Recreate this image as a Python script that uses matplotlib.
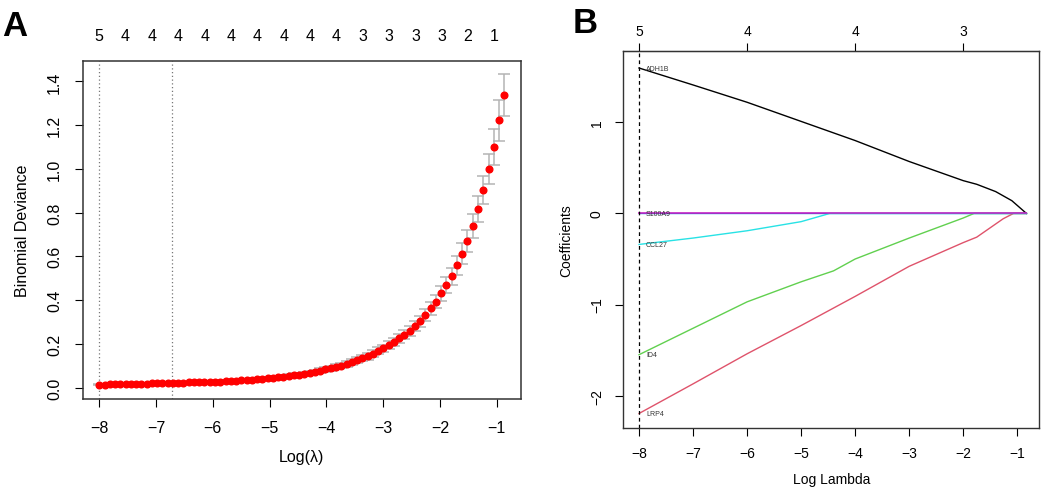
import numpy as np
import matplotlib
matplotlib.use("Agg")
import matplotlib.pyplot as plt

plt.rcParams['font.family'] = ['Liberation Sans', 'DejaVu Sans']

# Panel A: cross-validated binomial deviance
loglam_max = -0.866
loglam_min = -8.0
cv_mean = [0.013, 0.014, 0.015, 0.015, 0.016, 0.016, 0.017, 0.017, 0.018, 0.018,
           0.019, 0.020, 0.020, 0.021, 0.021, 0.022, 0.023, 0.024, 0.024, 0.025,
           0.025, 0.027, 0.028, 0.028, 0.029, 0.031, 0.032, 0.034, 0.035, 0.037,
           0.038, 0.040, 0.042, 0.044, 0.048, 0.050, 0.053, 0.057, 0.059, 0.063,
           0.067, 0.072, 0.078, 0.084, 0.089, 0.095, 0.101, 0.108, 0.116, 0.125,
           0.134, 0.143, 0.155, 0.168, 0.180, 0.194, 0.209, 0.226, 0.242, 0.259,
           0.280, 0.303, 0.332, 0.363, 0.393, 0.431, 0.468, 0.510, 0.559, 0.612,
           0.670, 0.739, 0.817, 0.903, 0.998, 1.101, 1.223, 1.337]
cv_se = [0.003, 0.003, 0.003, 0.003, 0.003, 0.003, 0.003, 0.003, 0.003, 0.003,
         0.003, 0.003, 0.004, 0.004, 0.004, 0.004, 0.004, 0.004, 0.004, 0.004,
         0.004, 0.005, 0.005, 0.005, 0.005, 0.005, 0.005, 0.005, 0.006, 0.006,
         0.006, 0.006, 0.006, 0.007, 0.007, 0.007, 0.008, 0.008, 0.008, 0.009,
         0.009, 0.010, 0.010, 0.011, 0.011, 0.012, 0.012, 0.013, 0.013, 0.014,
         0.014, 0.015, 0.016, 0.016, 0.017, 0.018, 0.019, 0.020, 0.021, 0.022,
         0.023, 0.025, 0.027, 0.029, 0.031, 0.034, 0.036, 0.039, 0.043, 0.047,
         0.049, 0.054, 0.061, 0.065, 0.069, 0.082, 0.094, 0.095]
lambda_min = -8.0
lambda_1se = -6.714
nz_labels_a = ['5', '4', '4', '4', '4', '4', '4', '4', '4', '4', '3', '3', '3', '3', '2', '1']

# Panel B: coefficient paths
adh1b_x = [-8, -7, -6, -5, -4, -3, -2, -1.75, -1.4, -1.1, -0.83]
adh1b_y = [1.596, 1.41, 1.22, 1.01, 0.80, 0.57, 0.36, 0.32, 0.24, 0.14, 0.0]
s100a9_x = [-8, -0.83]
s100a9_y = [0.0, 0.0]
ccl27_x = [-8, -7, -6, -5, -4.47, -0.83]
ccl27_y = [-0.34, -0.27, -0.19, -0.09, 0.0, 0.0]
id4_x = [-8, -7, -6, -5, -4.4, -4, -3, -2, -1.8, -0.83]
id4_y = [-1.55, -1.26, -0.97, -0.75, -0.63, -0.50, -0.27, -0.05, 0.0, 0.0]
lrp4_x = [-8, -7, -6, -5, -4, -3, -2, -1.75, -1.26, -1.07, -0.83]
lrp4_y = [-2.195, -1.87, -1.54, -1.23, -0.91, -0.58, -0.32, -0.26, -0.058, 0.0, 0.0]
top_ticks_b = [-8, -6, -4, -2]
nz_labels_b = ['5', '4', '4', '3']

fig = plt.figure(figsize=(10.45, 4.89), dpi=100)

# ---- panel A
axA = fig.add_axes([0.0794, 0.182, 0.4189, 0.6912])
loglam = np.linspace(loglam_min, loglam_max, len(cv_mean))
axA.errorbar(loglam, cv_mean, yerr=cv_se, fmt='none', ecolor='#B4B4B4',
             elinewidth=1.1, capsize=4.5, capthick=1.1, zorder=2)
axA.plot(loglam, cv_mean, 'o', color='red', markersize=4.8, zorder=3)
axA.axvline(lambda_min, color='#777777', linestyle=(0, (1, 2)), linewidth=0.9)
axA.axvline(lambda_1se, color='#777777', linestyle=(0, (1, 2)), linewidth=0.9)
axA.set_xlim(-8.287, -0.577)
axA.set_ylim(-0.052, 1.493)
axA.set_xticks(range(-8, 0))
axA.set_yticks([0.0, 0.2, 0.4, 0.6, 0.8, 1.0, 1.2, 1.4])
axA.set_yticklabels(['0.0', '0.2', '0.4', '0.6', '0.8', '1.0', '1.2', '1.4'],
                    rotation=90, va='center')
axA.tick_params(axis='x', labelsize=11.5, length=6, pad=9)
axA.tick_params(axis='y', labelsize=11.5, length=6, pad=9)
axA.set_xlabel('Log(\u03bb)', fontsize=11.5, labelpad=10)
axA.set_ylabel('Binomial Deviance', fontsize=11.5, labelpad=12)
secA = axA.secondary_xaxis('top')
secA.set_xticks(np.linspace(-8.0, -1.04, len(nz_labels_a)))
secA.set_xticklabels(nz_labels_a)
secA.tick_params(length=0, labelsize=11.5, pad=13)
secA.spines['top'].set_visible(False)
for s in axA.spines.values():
    s.set_linewidth(1.1)
    s.set_color('#333333')

# ---- panel B
axB = fig.add_axes([0.5965, 0.122, 0.3980, 0.7723])
axB.plot(adh1b_x, adh1b_y, color='black', linewidth=1)
axB.plot(s100a9_x, s100a9_y, color='#2297E6', linewidth=1)
axB.plot(lrp4_x, lrp4_y, color='#DF536B', linewidth=1)
axB.plot(id4_x, id4_y, color='#61D04F', linewidth=1)
axB.plot(ccl27_x, ccl27_y, color='#28E2E5', linewidth=1)
axB.plot(s100a9_x, s100a9_y, color='#CD0BBC', linewidth=1.4, alpha=0.75)
axB.axvline(-8, color='black', linestyle=(0, (3, 2.5)), linewidth=0.9)
for name, ys in [('ADH1B', adh1b_y), ('S100A9', s100a9_y), ('CCL27', ccl27_y),
                 ('ID4', id4_y), ('LRP4', lrp4_y)]:
    axB.text(-7.87, ys[0], name, fontsize=5, color='#333333', ha='left', va='center')
axB.set_xlim(-8.29, -0.593)
axB.set_ylim(-2.358, 1.786)
axB.set_xticks(range(-8, 0))
axB.set_yticks([-2, -1, 0, 1])
axB.set_yticklabels(['\u22122', '\u22121', '0', '1'], rotation=90, va='center')
axB.tick_params(axis='x', labelsize=10, length=6, pad=7)
axB.tick_params(axis='y', labelsize=10, length=6, pad=8)
axB.set_xlabel('Log Lambda', fontsize=10, labelpad=8)
axB.set_ylabel('Coefficients', fontsize=10, labelpad=12)
secB = axB.secondary_xaxis('top')
secB.set_xticks(top_ticks_b)
secB.set_xticklabels(nz_labels_b)
secB.tick_params(length=6, labelsize=10, pad=3)
for s in axB.spines.values():
    s.set_linewidth(1.0)
    s.set_color('#333333')

fig.text(0.002, 0.945, 'A', fontsize=25, fontweight='bold',
         family=['Liberation Sans Narrow', 'Liberation Sans'], va='center')
fig.text(0.548, 0.952, 'B', fontsize=25, fontweight='bold',
         family=['Liberation Sans Narrow', 'Liberation Sans'], va='center')

fig.savefig('out.png', dpi=100)
